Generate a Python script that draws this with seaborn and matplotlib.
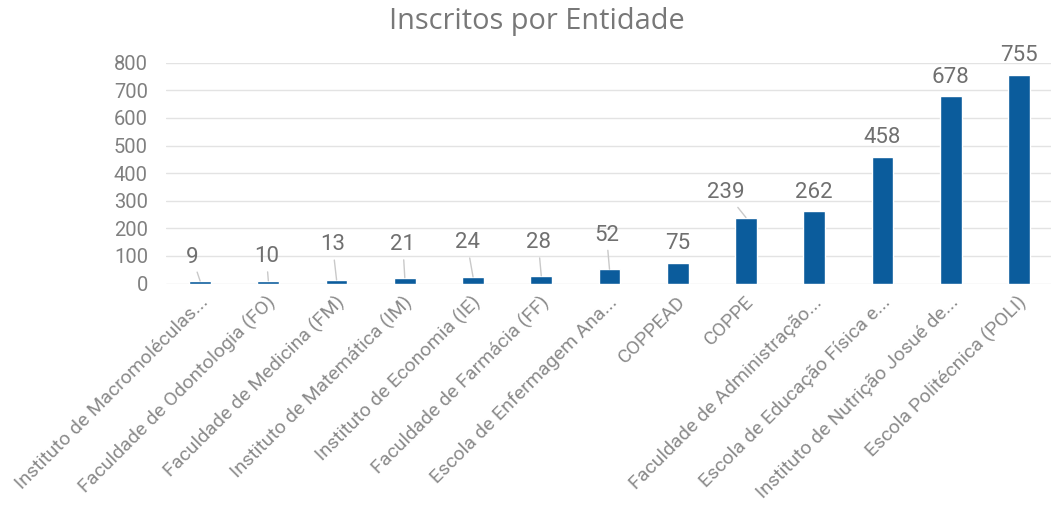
import matplotlib
matplotlib.use("Agg")
import matplotlib.pyplot as plt
import matplotlib.transforms as mtransforms
import seaborn as sns
import pandas as pd

entidades = [
    "Instituto de Macromoléculas...",
    "Faculdade de Odontologia (FO)",
    "Faculdade de Medicina (FM)",
    "Instituto de Matemática (IM)",
    "Instituto de Economia (IE)",
    "Faculdade de Farmácia (FF)",
    "Escola de Enfermagem Ana...",
    "COPPEAD",
    "COPPE",
    "Faculdade de Administração...",
    "Escola de Educação Física e...",
    "Instituto de Nutrição Josué de...",
    "Escola Politécnica (POLI)",
]
inscritos = [9, 10, 13, 21, 24, 28, 52, 75, 239, 262, 458, 678, 755]

# label placement (pixel offsets from bar top) - excel moved some labels around
label_dx = [-8, -2, -4, -2, -6, -3, -3, 0, -20, 0, 0, 0, 0]
label_up = [24, 24, 35, 33, 34, 33, 34, 19, 25, 19, 20, 19, 20]

df = pd.DataFrame({"Entidade": entidades, "Inscritos": inscritos})

sns.set_style("white")
plt.rcParams["font.family"] = ["Roboto", "DejaVu Sans"]

fig = plt.figure(figsize=(10.51, 5.13), dpi=100)
ax = fig.add_axes([166 / 1051, (513 - 283.5) / 513, 887 / 1051, 220.8 / 513])

sns.barplot(data=df, x="Entidade", y="Inscritos", color="#0B5C9C", width=0.32,
            saturation=1, ax=ax, zorder=3)

ax.set_ylim(0, 800)
ax.set_xlim(-0.5, len(entidades) - 0.5)
ax.set_yticks(range(0, 801, 100))
ax.yaxis.grid(True, color="#e3e3e3", lw=1, zorder=0)
ax.set_axisbelow(True)
for s in ax.spines.values():
    s.set_visible(False)
ax.set_xlabel("")
ax.set_ylabel("")
ax.tick_params(axis="y", length=0, pad=13, labelsize=14.5, labelcolor="#808080")
ax.tick_params(axis="x", length=0, pad=11.5, labelsize=14, labelcolor="#8a8a8a")

plt.setp(ax.get_xticklabels(), rotation=45, ha="right", va="center",
         rotation_mode="anchor")
shift = mtransforms.ScaledTranslation(5 / 100, 0, fig.dpi_scale_trans)
for lbl in ax.get_xticklabels():
    lbl.set_transform(lbl.get_transform() + shift)

for i, v in enumerate(inscritos):
    arrow = None
    if label_up[i] > 22:
        arrow = dict(arrowstyle="-", color="#c9c9c9", lw=1, shrinkA=1, shrinkB=0)
    ax.annotate(str(v), xy=(i, v), xytext=(label_dx[i], label_up[i]),
                textcoords="offset pixels", ha="center", va="center",
                fontsize=16, color="#707070", arrowprops=arrow,
                annotation_clip=False, zorder=5)

fig.text(0.511, 1 - 21 / 513, "Inscritos por Entidade", ha="center", va="center",
         fontsize=20.8, color="#787878", family=["Open Sans", "DejaVu Sans"])

fig.savefig("out.png", dpi=100)
